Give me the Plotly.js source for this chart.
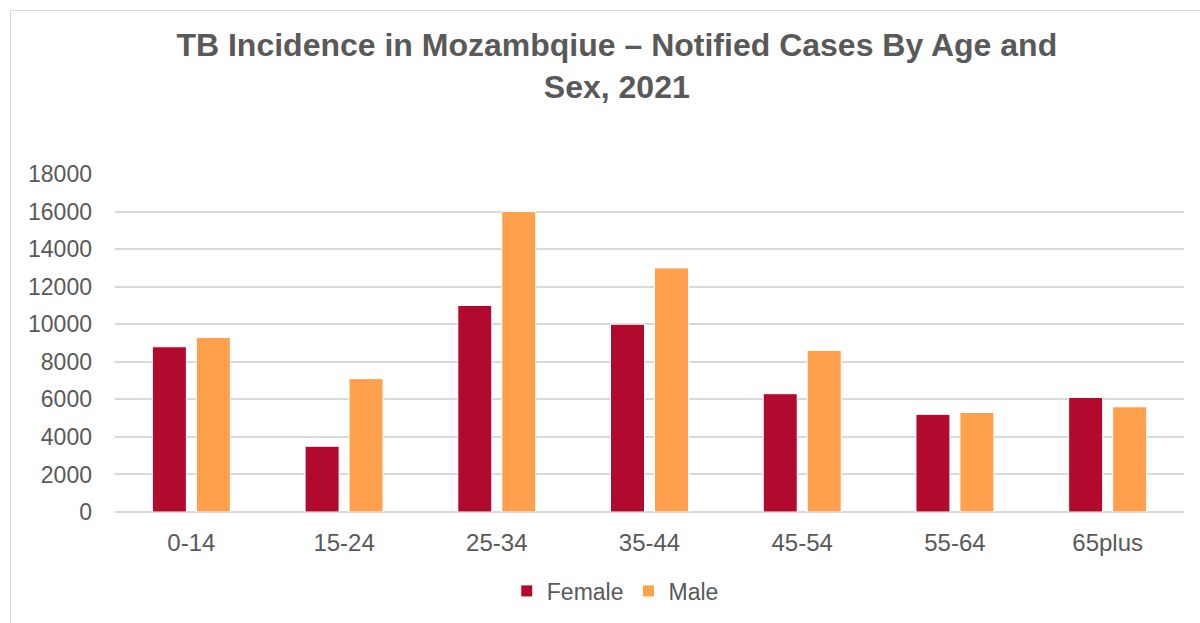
<!DOCTYPE html>
<html>
<head>
<meta charset="utf-8">
<script src="https://cdn.plot.ly/plotly-3.0.1.min.js"></script>
<style>
  html, body { margin: 0; padding: 0; background: #fff; }
  #wrap { position: relative; width: 1200px; height: 623px; overflow: hidden; }
  #chart { position: absolute; left: 0; top: 0; width: 1200px; height: 623px; }
  #frame { position: absolute; left: 10px; top: 10px; width: 1200px; height: 620px;
           border-top: 1px solid #d9d9d9; border-left: 1px solid #d9d9d9; pointer-events: none; }
</style>
</head>
<body>
<div id="wrap">
  <div id="chart"></div>
  <div id="frame"></div>
</div>
<script>
const categories = ["0-14", "15-24", "25-34", "35-44", "45-54", "55-64", "65plus"];
const femaleValues = [8800, 3500, 11000, 10000, 6300, 5200, 6100];
const maleValues = [9300, 7100, 16000, 13000, 8600, 5300, 5600];
const yTicks = [0, 2000, 4000, 6000, 8000, 10000, 12000, 14000, 16000, 18000];

const FONT = "Liberation Sans, Arial, Helvetica, sans-serif";
const GREY = "#595959";

const traces = [
  {
    type: "bar", name: "Female", x: categories, y: femaleValues,
    marker: { color: "#B20A2F", line: { color: "#ffffff", width: 1 } },
    hoverinfo: "x+y+name"
  },
  {
    type: "bar", name: "Male", x: categories, y: maleValues,
    marker: { color: "#FFA14C", line: { color: "#ffffff", width: 1 } },
    hoverinfo: "x+y+name"
  }
];

const layout = {
  width: 1200, height: 623,
  paper_bgcolor: "rgba(0,0,0,0)", plot_bgcolor: "#ffffff",
  margin: { l: 115, r: 16, t: 174, b: 110, pad: 0 },
  barmode: "group", bargap: 0.424, bargroupgap: 0.227,
  title: {
    text: "<b>TB Incidence in Mozambqiue – Notified Cases By Age and<br>Sex, 2021</b>",
    font: { family: FONT, size: 32, color: GREY },
    x: 0.514, xanchor: "center", xref: "container",
    y: 1 - 56 / 623, yanchor: "top", yref: "container"
  },
  font: { family: FONT, color: GREY },
  xaxis: {
    type: "category", showgrid: false, showline: false, ticks: "",
    tickfont: { family: FONT, size: 24, color: GREY }, ticklabelstandoff: 14
  },
  yaxis: {
    range: [0, 18000], tickvals: yTicks, ticktext: yTicks.map(String),
    showgrid: true, gridcolor: "#d9d9d9", gridwidth: 1.5,
    zeroline: true, zerolinecolor: "#d9d9d9", zerolinewidth: 1.5,
    showline: false, ticks: "",
    tickfont: { family: FONT, size: 23, color: GREY }, ticklabelstandoff: 22
  },
  legend: {
    orientation: "h", x: 0.468, xanchor: "center", y: -0.230, yanchor: "middle",
    font: { family: FONT, size: 23, color: GREY }, itemwidth: 30,
    bgcolor: "rgba(0,0,0,0)"
  },
  showlegend: true
};

Plotly.newPlot("chart", traces, layout, { displayModeBar: false, staticPlot: false });
</script>
</body>
</html>
